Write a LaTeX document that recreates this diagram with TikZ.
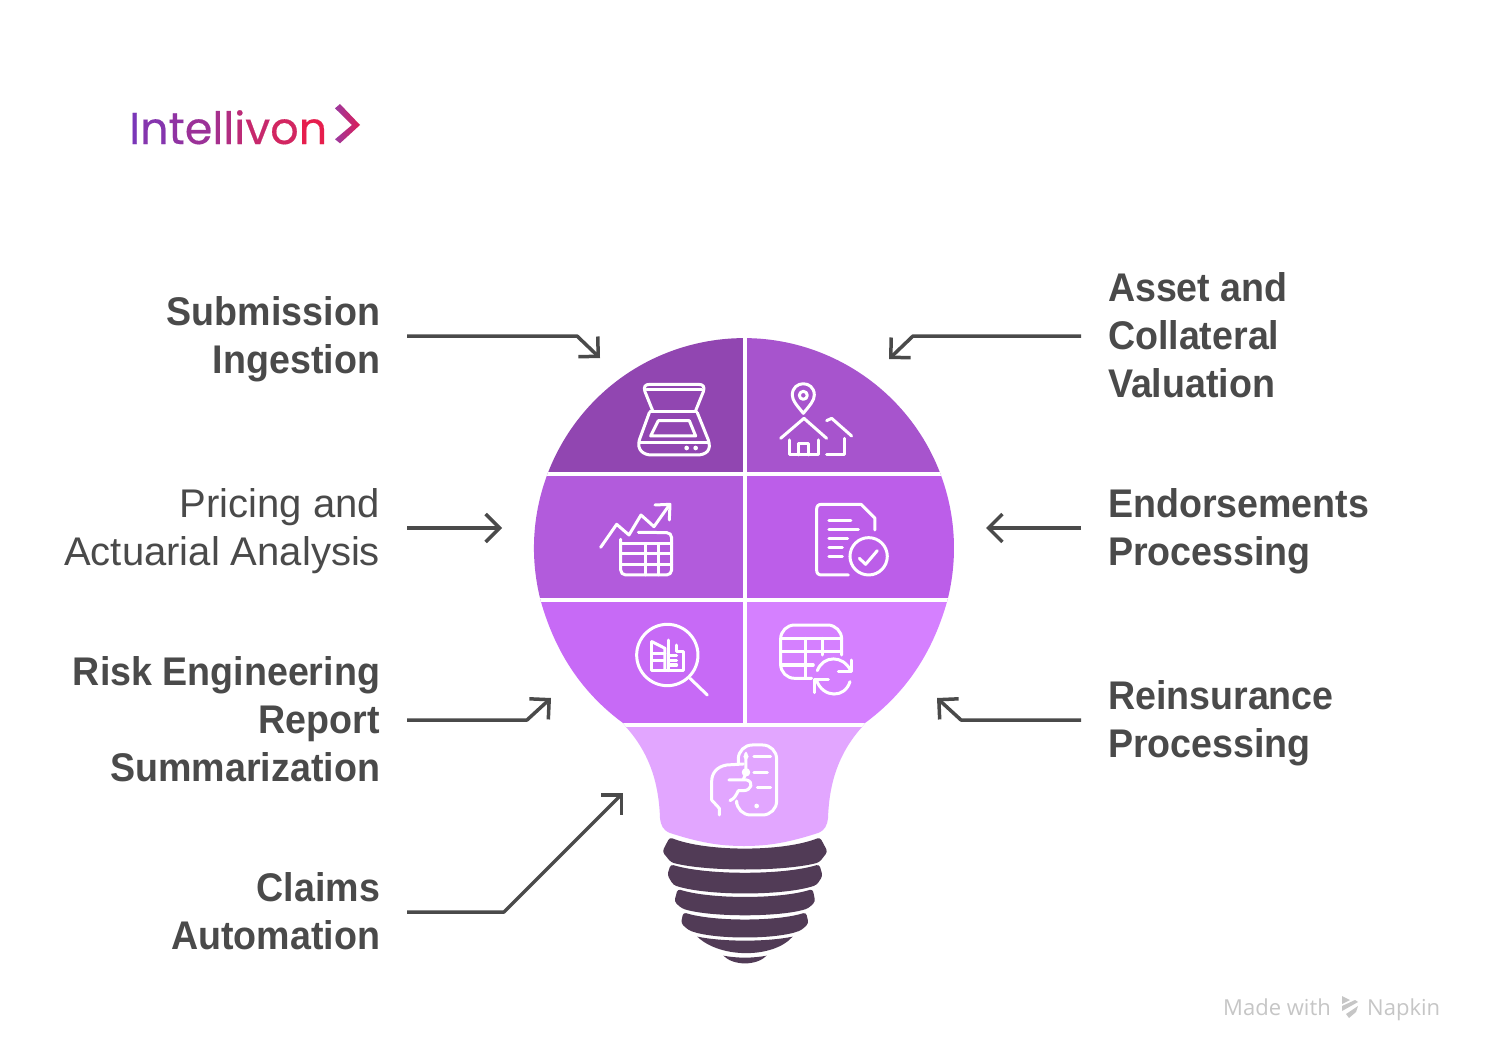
\documentclass[tikz,border=0pt]{standalone}
\usepackage{fontspec}
\setmainfont{Liberation Sans}
\newfontfamily\labelfont[FakeStretch=0.94]{Liberation Sans}
\newfontfamily\logofont[FakeBold=0.4]{Poppins}
\newfontfamily\markfont{Open Sans}
\usetikzlibrary{arrows.meta}
\definecolor{inkgray}{HTML}{4A4A4A}
\definecolor{basedark}{HTML}{513B56}
\definecolor{markgray}{HTML}{C6C6C6}
\definecolor{rowa}{HTML}{9146B1}
\definecolor{rowb}{HTML}{A754CD}
\definecolor{rowc}{HTML}{B25BDC}
\definecolor{rowd}{HTML}{BC5EE9}
\definecolor{rowe}{HTML}{C76AF6}
\definecolor{rowf}{HTML}{D580FF}
\definecolor{rowg}{HTML}{E2A6FF}
\definecolor{chevl}{HTML}{9C3AA0}
\definecolor{chevr}{HTML}{DC1C55}
\newcommand{\headstrut}{\rule{0pt}{36pt}}
\tikzset{
  labeltext/.style={inner xsep=0pt,inner ysep=0pt,outer xsep=27pt,text=inkgray,font=\labelfont\fontsize{40}{48}\selectfont,execute at end node=\rule[-10pt]{0pt}{10pt}},
  leftlabel/.style={labeltext,anchor=east,align=right},
  rightlabel/.style={labeltext,anchor=west,align=left},
  flow/.style={draw=inkgray,line width=3.5pt,line join=round,-{Straight Barb[length=14pt,width=28pt,line width=3.5pt]}},
  icon/.style={draw=white,line width=3pt,line cap=round,line join=round},
  gap/.style={draw=white,line width=4pt},
  screw/.style={fill=basedark,rounded corners=3pt}
}
\begin{document}
\begin{tikzpicture}[x=1pt,y=-1pt]
\fill[white] (0,0) rectangle (1488,1062);
\useasboundingbox (0,0) rectangle (1488,1062);
\begin{scope}
\clip (540.5,600) arc (165.7:374.3:210) .. controls (932,656) and (903,695) .. (865,723) -- (862,727) .. controls (835,757) and (829,790) .. (828,818) .. controls (827,826) and (825,830) .. (818,833) .. controls (790,842) and (770,846) .. (744,846) .. controls (718,846) and (698,842) .. (670,833) .. controls (663,830) and (661,826) .. (660,818) .. controls (659,790) and (653,757) .. (626,727) -- (623,723) .. controls (585,695) and (556,656) .. cycle;
\fill[rowa] (530,330) rectangle (744,474);
\fill[rowb] (744,330) rectangle (960,474);
\fill[rowc] (530,474) rectangle (744,600);
\fill[rowd] (744,474) rectangle (960,600);
\fill[rowe] (530,600) rectangle (744,725);
\fill[rowf] (744,600) rectangle (960,725);
\fill[rowg] (600,725) rectangle (880,850);
\draw[gap] (745,330) -- (745,725);
\draw[gap] (530,474) -- (960,474);
\draw[gap] (530,600) -- (960,600);
\draw[gap] (600,725) -- (880,725);
\end{scope}
\begin{scope}[shift={(530,330)},x=0.3333pt,y=-0.3333pt]
\draw[icon] (368,242) -- (345,185) .. controls (340,170) and (345,163) .. (360,163) -- (505,163) .. controls (520,163) and (525,170) .. (520,185) -- (497,242);
\draw[icon] (350,180) -- (515,180);
\draw[icon] (360,245) -- (500,245);
\draw[icon] (358,248) -- (328,330) .. controls (320,360) and (340,375) .. (365,375) -- (500,375) .. controls (530,375) and (545,360) .. (535,330) -- (502,248);
\draw[icon] (328,337) -- (536,337);
\draw[icon] (385,272) -- (478,272) -- (497,318) -- (362,318) -- cycle;
\fill[white] (470,354) circle (7) (497,354) circle (7);
\draw[icon] (820,250) .. controls (800,225) and (787,212) .. (787,195) .. controls (787,150) and (853,150) .. (853,195) .. controls (853,212) and (840,225) .. cycle;
\draw[icon] (820,196) circle (12);
\draw[icon] (752,325) -- (822,265) -- (890,325);
\draw[icon] (780,330) -- (780,375) -- (865,375) -- (865,330);
\draw[icon] (807,375) -- (807,342) -- (835,342) -- (835,375);
\draw[icon] (890,272) -- (905,265) -- (965,318);
\draw[icon] (945,325) -- (945,375) -- (890,375);
\draw[icon] (212,652) -- (260,583) -- (297,615) -- (333,555) -- (372,590) -- (418,525);
\draw[icon] (375,525) -- (420,523) -- (418,570);
\draw[icon,rounded corners=5pt] (272,628) -- (272,735) -- (425,735) -- (425,608) -- (325,607);
\draw[icon] (272,642) -- (425,642);
\draw[icon] (272,672) -- (425,672);
\draw[icon] (272,704) -- (425,704);
\draw[icon] (347,642) -- (347,735);
\draw[icon] (385,642) -- (385,735);
\draw[icon] (1035,600) -- (1035,565) -- (993,523) -- (875,523) .. controls (865,523) and (860,528) .. (860,538) -- (860,720) .. controls (860,730) and (865,735) .. (875,735) -- (955,735);
\draw[icon] (897,571) -- (963,571);
\draw[icon] (897,598) -- (985,598);
\draw[icon] (897,625) -- (953,625);
\draw[icon] (897,652) -- (937,652);
\draw[icon] (897,679) -- (937,679);
\draw[icon] (1016,679) circle (56);
\draw[icon] (988,685) -- (1007,703) -- (1042,662);
\end{scope}
\begin{scope}[shift={(530,600)},x=0.3333pt,y=-0.3333pt]
\draw[icon] (412,165) circle (92);
\draw[icon] (480,235) -- (532,285);
\draw[icon] (366,125) -- (405,145) -- (405,212);
\draw[icon] (366,125) -- (366,212) -- (462,212) -- (462,155) -- (440,155) -- (440,135);
\draw[icon] (366,160) -- (405,160);
\draw[icon] (366,182) -- (400,182);
\draw[icon] (415,120) -- (415,212);
\draw[icon] (415,165) -- (440,165);
\draw[icon] (415,180) -- (440,180);
\draw[icon] (420,195) -- (440,195);
\draw[icon,rounded corners=14pt] (845,235) -- (752,235) -- (752,75) -- (935,75) -- (935,165);
\draw[icon] (752,115) -- (935,115);
\draw[icon] (752,155) -- (935,155);
\draw[icon] (752,195) -- (850,195);
\draw[icon] (827,115) -- (827,235);
\draw[icon] (877,115) -- (877,165);
\draw[icon] (862,212) .. controls (880,165) and (940,165) .. (962,212);
\draw[icon] (925,215) -- (965,215) -- (965,180);
\draw[icon] (960,245) .. controls (945,295) and (880,295) .. (860,242);
\draw[icon] (895,240) -- (855,240) -- (855,278);
\draw[icon,rounded corners=14pt] (625,490) -- (625,435) -- (740,435) -- (740,645) -- (620,645) -- (620,612);
\draw[icon] (672,471) -- (722,471);
\draw[icon] (672,517) -- (712,517);
\draw[icon] (682,563) -- (722,563);
\fill[white] (680,618) circle (7);
\draw[icon] (640,492) -- (590,495) .. controls (560,500) and (545,520) .. (545,545) -- (545,600) -- (568,625) -- (568,645);
\draw[icon] (597,540) -- (650,540) .. controls (672,545) and (665,572) .. (640,572) -- (625,572) .. controls (618,585) and (615,595) .. (600,602);
\draw[icon] (648,460) -- (648,520) -- (640,538);
\draw[icon] (648,517) circle (8);
\fill[white] (648,455) -- (656,470) -- (648,482) -- (640,470) -- cycle;
\fill[screw] (419,712) .. controls (530,756) and (760,756) .. (870,712) -- (893,755) -- (868,787) .. controls (760,815) and (530,815) .. (423,787) -- (397,755) -- cycle;
\fill[screw] (422,793) .. controls (530,826) and (760,826) .. (868,793) -- (878,828) -- (860,855) .. controls (760,888) and (530,888) .. (430,855) -- (412,825) -- cycle;
\fill[screw] (443,867) .. controls (540,898) and (750,898) .. (848,867) -- (856,905) -- (835,925) .. controls (750,952) and (540,952) .. (455,925) -- (433,905) -- cycle;
\fill[screw] (460,937) .. controls (550,965) and (740,965) .. (828,937) -- (836,970) -- (815,990) .. controls (740,1019) and (550,1019) .. (475,990) -- (453,970) -- cycle;
\fill[basedark] (502,1010) .. controls (580,1026) and (710,1026) .. (788,1010) .. controls (730,1076) and (570,1076) .. cycle;
\fill[basedark] (580,1067) .. controls (620,1075) and (670,1075) .. (710,1067) .. controls (680,1098) and (610,1098) .. cycle;
\end{scope}
\begin{scope}
\node[leftlabel] (submission) at (407,336) {\headstrut\bfseries Submission\\\bfseries Ingestion};
\node[leftlabel] (pricing) at (407,528) {\headstrut\rmfamily Pricing and\\\rmfamily Actuarial Analysis};
\node[leftlabel] (risk) at (407,720) {\headstrut\bfseries Risk Engineering\\\bfseries Report\\\bfseries Summarization};
\node[leftlabel] (claims) at (407,912) {\headstrut\bfseries Claims\\\bfseries Automation};
\node[rightlabel] (asset) at (1081,336) {\headstrut\bfseries Asset and\\\bfseries Collateral\\\bfseries Valuation};
\node[rightlabel] (endorse) at (1081,528) {\headstrut\bfseries Endorsements\\\bfseries Processing};
\node[rightlabel] (reins) at (1081,720) {\headstrut\bfseries Reinsurance\\\bfseries Processing};
\coordinate (tipsub) at (600,358);
\coordinate (tippri) at (502,528);
\coordinate (tiprisk) at (551,698);
\coordinate (tipcla) at (623,793);
\coordinate (tipass) at (889,359);
\coordinate (tipend) at (986,528);
\coordinate (tiprei) at (937,698);
\draw[flow] (submission.east) -- ++(170,0) -- (tipsub);
\draw[flow] (pricing.east) -- (tippri);
\draw[flow] (risk.east) -- ++(120,0) -- (tiprisk);
\draw[flow] (claims.east) -- ++(97,0) -- (tipcla);
\draw[flow] (asset.west) -- ++(-168,0) -- (tipass);
\draw[flow] (endorse.west) -- (tipend);
\draw[flow] (reins.west) -- ++(-120,0) -- (tiprei);
\end{scope}
\begin{scope}
\node[anchor=base west,inner sep=0pt,font=\logofont\fontsize{44.5}{44}\selectfont] (logo) at (129,144) {\textcolor[HTML]{7A36B8}{I}\textcolor[HTML]{8535AE}{n}\textcolor[HTML]{9033A3}{t}\textcolor[HTML]{9B3198}{e}\textcolor[HTML]{A62F8D}{l}\textcolor[HTML]{B12D82}{l}\textcolor[HTML]{BC2B77}{i}\textcolor[HTML]{C7286C}{v}\textcolor[HTML]{D22661}{o}\textcolor[HTML]{E61E4D}{n}};
\shade[left color=chevl,right color=chevr] (335,108.3) -- (340,104) -- (360,125) -- (340,143.3) -- (335,139.3) -- (352,125) -- cycle;
\node[anchor=base west,inner sep=0pt,text=markgray,font=\markfont\fontsize{22}{22}\selectfont] (made) at (1223,1015) {Made with};
\node[anchor=base west,inner sep=0pt,text=markgray,font=\markfont\fontsize{22}{22}\selectfont] (napkin) at (1367,1015) {Napkin};
\fill[markgray] (1342,996) -- (1350,1000) -- (1342,1004) -- cycle;
\fill[markgray] (1342,1006) -- (1355,1000) -- (1358,1002) -- (1342,1011) -- cycle;
\fill[markgray] (1346,1014) -- (1358,1006) -- (1356,1012) -- (1349,1018) -- cycle;
\end{scope}
\end{tikzpicture}
\end{document}
